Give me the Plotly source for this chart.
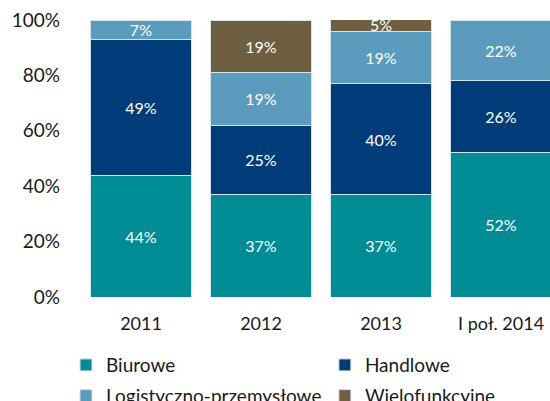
import plotly.graph_objects as go

categories = ["2011", "2012", "2013", "I poł. 2014"]
series_names = ["Biurowe", "Handlowe", "Logistyczno-przemysłowe", "Wielofunkcyjne"]
biurowe = [44, 37, 37, 52]
handlowe = [49, 25, 40, 26]
logistyczno = [7, 19, 19, 22]
wielofunkcyjne = [None, 19, 5, None]
colors = ["#008C95", "#003C78", "#5A9BBE", "#6E5F40"]
legend_ids = ["legend", "legend2", "legend", "legend2"]
y_ticks = [0, 20, 40, 60, 80, 100]
y_ticktext = [f"{v}%" for v in y_ticks]

FONT = "Lato"
fig = go.Figure()
for name, vals, col, lg in zip(series_names, [biurowe, handlowe, logistyczno, wielofunkcyjne], colors, legend_ids):
    fig.add_trace(go.Bar(
        x=categories, y=vals, name=name, legend=lg, legendgroup=name,
        marker=dict(color=col, line=dict(color="#d6e3ee", width=1)),
        text=[f"{v}%" if v else "" for v in vals],
        textposition="inside", insidetextanchor="middle",
        textfont=dict(color="white", size=16, family=FONT),
        constraintext="none", cliponaxis=True,
    ))

legend_common = dict(orientation="v", yref="container", y=0.137, yanchor="top",
                     xanchor="left", font=dict(size=19), itemwidth=30,
                     traceorder="grouped", tracegroupgap=3, bgcolor="rgba(0,0,0,0)")

fig.update_layout(
    barmode="stack", bargap=0.16,
    width=550, height=401,
    margin=dict(l=81, r=0, t=20, b=104, autoexpand=False),
    plot_bgcolor="white", paper_bgcolor="white",
    font=dict(family=FONT, size=18, color="#1a1a1a"),
    xaxis=dict(range=[-0.5, 3.408], showline=False, showgrid=False, ticks="",
               tickfont=dict(size=18), ticklabelstandoff=14),
    yaxis=dict(range=[0, 100], tickvals=y_ticks, ticktext=y_ticktext, showgrid=False,
               showline=False, zeroline=False, ticks="", ticklabelstandoff=20,
               tickfont=dict(size=19)),
    legend=dict(x=-0.032, **legend_common),
    legend2=dict(x=0.520, **legend_common),
    showlegend=True,
)
fig.write_html("out.html")
